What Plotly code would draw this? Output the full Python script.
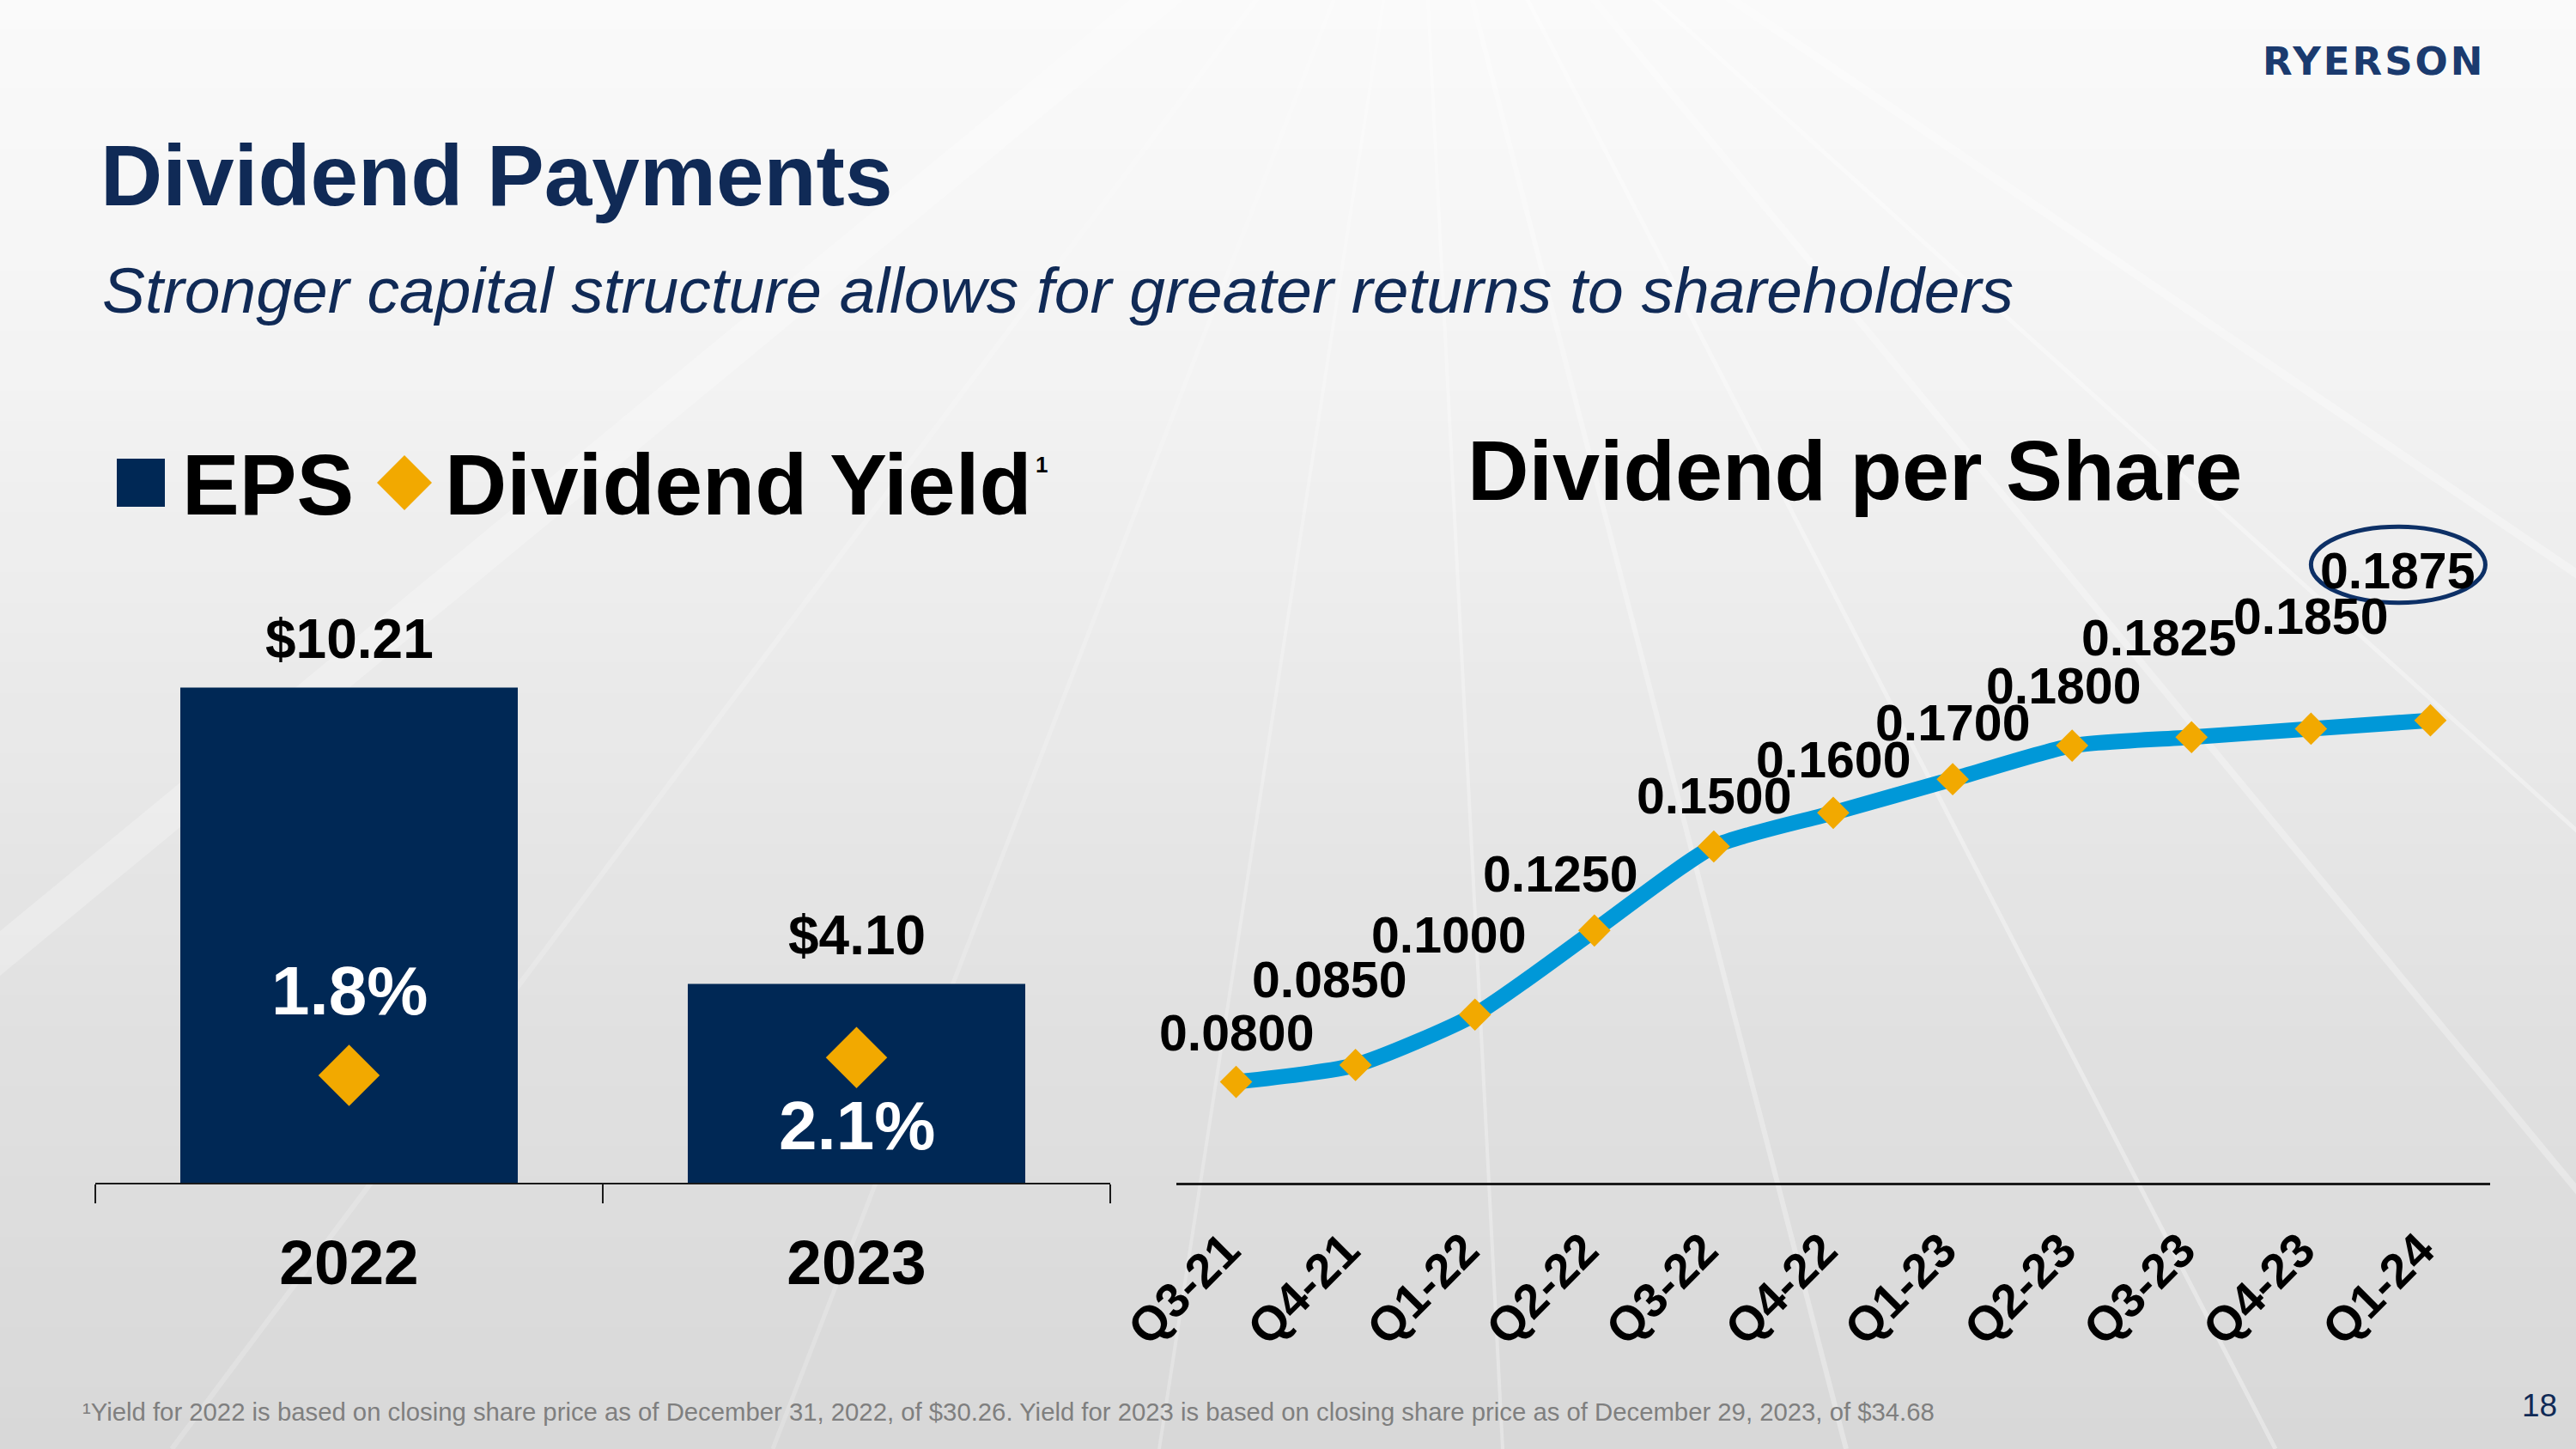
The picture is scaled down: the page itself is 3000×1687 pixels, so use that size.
import plotly.graph_objects as go

W, H = 3000, 1687

# ---------------- data ----------------
eps_years = ["2022", "2023"]
eps_values = [10.21, 4.10]
eps_labels = ["$10.21", "$4.10"]
yield_values = [1.8, 2.1]
yield_labels = ["1.8%", "2.1%"]

quarters = ["Q3-21", "Q4-21", "Q1-22", "Q2-22", "Q3-22", "Q4-22",
            "Q1-23", "Q2-23", "Q3-23", "Q4-23", "Q1-24"]
dps_values = [0.0800, 0.0850, 0.1000, 0.1250, 0.1500, 0.1600,
              0.1700, 0.1800, 0.1825, 0.1850, 0.1875]
dps_labels = ["0.0800", "0.0850", "0.1000", "0.1250", "0.1500", "0.1600",
              "0.1700", "0.1800", "0.1825", "0.1850", "0.1875"]

title_text = "Dividend Payments"
subtitle_text = "Stronger capital structure allows for greater returns to shareholders"
line_title = "Dividend per Share"
footnote_text = ("¹Yield for 2022 is based on closing share price as of December 31, 2022, of $30.26. "
                 "Yield for 2023 is based on closing share price as of December 29, 2023, of $34.68")
page_number = "18"
logo_text = "RYERSON"

# ---------------- styles ----------------
FONT = "Liberation Sans, Arial, sans-serif"
NAVY_TXT = "#102A56"
BAR_NAVY = "#002855"
GOLD = "#F2A900"
BLUE = "#0098D8"
AXIS = "#1a1a1a"

# label offsets (pixels) for the dividend data labels
dps_label_shift = [(0, 57), (-31, 99), (-31, 92), (-40, 65), (0, 59), (0, 61),
                   (0, 65), (-10, 69), (-38, 115), (0, 130), (-38, 174)]
yield_label_shift = [99, -79]


def px(x):
    return x / W


def py(y):
    return 1 - y / H


def bold(size, color="black"):
    return dict(family=FONT, size=size, color=color, weight="bold")


fig = go.Figure()

# EPS bars
fig.add_trace(go.Bar(
    x=eps_years, y=eps_values, width=0.665,
    marker=dict(color=BAR_NAVY, line=dict(width=0)),
    xaxis="x", yaxis="y", hoverinfo="skip", showlegend=False))

# Dividend yield diamonds (secondary axis)
fig.add_trace(go.Scatter(
    x=eps_years, y=yield_values, mode="markers",
    marker=dict(symbol="diamond", size=55, color=GOLD, line=dict(width=0)),
    xaxis="x", yaxis="y3", hoverinfo="skip", showlegend=False))

# Dividend per share line
fig.add_trace(go.Scatter(
    x=quarters, y=dps_values, mode="lines+markers",
    line=dict(color=BLUE, width=18, shape="spline", smoothing=0.6),
    marker=dict(symbol="diamond", size=29, color=GOLD, line=dict(width=0)),
    xaxis="x2", yaxis="y2", hoverinfo="skip", showlegend=False))

annotations = []

# category axes: annotations are anchored by category index
for i, (v, lab) in enumerate(zip(eps_values, eps_labels)):
    annotations.append(dict(x=i, y=v, xref="x", yref="y", text=lab, showarrow=False,
                            yshift=56, yanchor="middle", font=bold(64)))

for i, (v, lab, sh) in enumerate(zip(yield_values, yield_labels, yield_label_shift)):
    annotations.append(dict(x=i, y=v, xref="x", yref="y3", text=lab, showarrow=False,
                            yshift=sh, yanchor="middle", font=bold(80, "white")))

for i, (v, lab, (dx, dy)) in enumerate(zip(dps_values, dps_labels, dps_label_shift)):
    annotations.append(dict(x=i, y=v, xref="x2", yref="y2", text=lab, showarrow=False,
                            xshift=dx, yshift=dy, yanchor="middle", font=bold(59)))

# Titles and texts
annotations += [
    dict(x=px(115), y=py(204), xref="paper", yref="paper", text=title_text, showarrow=False,
         xanchor="left", yanchor="middle", font=bold(100, NAVY_TXT)),
    dict(x=px(117), y=py(338), xref="paper", yref="paper", text=subtitle_text, showarrow=False,
         xanchor="left", yanchor="middle",
         font=dict(family=FONT, size=75, color=NAVY_TXT, style="italic")),
    dict(x=px(210), y=py(564), xref="paper", yref="paper", text="EPS", showarrow=False,
         xanchor="left", yanchor="middle", font=bold(100)),
    dict(x=px(516), y=py(564), xref="paper", yref="paper", text="Dividend Yield", showarrow=False,
         xanchor="left", yanchor="middle", font=bold(100)),
    dict(x=px(1204), y=py(541), xref="paper", yref="paper", text="1", showarrow=False,
         xanchor="left", yanchor="middle", font=bold(26)),
    dict(x=px(2160), y=py(548), xref="paper", yref="paper", text=line_title, showarrow=False,
         xanchor="center", yanchor="middle", font=bold(99)),
    dict(x=px(94), y=py(1643), xref="paper", yref="paper", text=footnote_text, showarrow=False,
         xanchor="left", yanchor="middle", font=dict(family=FONT, size=29.3, color="#7f7f7f")),
    dict(x=px(2980), y=py(1636), xref="paper", yref="paper", text=page_number, showarrow=False,
         xanchor="right", yanchor="middle", font=dict(family=FONT, size=37, color=NAVY_TXT)),
    dict(x=px(2633), y=py(72), xref="paper", yref="paper",
         text='<span style="letter-spacing:3px">' + logo_text + '</span>', showarrow=False,
         xanchor="left", yanchor="middle",
         font=dict(family="DejaVu Sans, sans-serif", size=45, color="#1B3B6F", weight="bold")),
]

shapes = []

# background vertical gradient
stops = [(0.0, 250), (0.2, 245), (0.45, 235), (0.7, 225), (1.0, 216)]


def grey_at(t):
    for (t0, g0), (t1, g1) in zip(stops[:-1], stops[1:]):
        if t0 <= t <= t1:
            return g0 + (g1 - g0) * (t - t0) / (t1 - t0)
    return stops[-1][1]


nb = 48
for i in range(nb):
    t = (i + 0.5) / nb
    g = int(round(grey_at(t)))
    shapes.append(dict(type="rect", xref="paper", yref="paper", layer="below",
                       x0=-0.01, x1=1.01, y0=1 - (i + 1) / nb - 0.001, y1=1 - i / nb + 0.001,
                       fillcolor=f"rgb({g},{g},{g})", line=dict(width=0)))

# soft light rays
vp = (1650, -250)
ray_ends = [(-700, 40, 0.25), (200, 6, 0.2), (900, 5, 0.2), (1350, 4, 0.25),
            (1750, 4, 0.3), (2150, 6, 0.3), (2650, 5, 0.35), (3250, 8, 0.3),
            (3800, 5, 0.35), (4500, 10, 0.3)]
for xe, wdt, op in ray_ends:
    shapes.append(dict(type="line", xref="paper", yref="paper", layer="below",
                       x0=px(vp[0]), y0=py(vp[1]), x1=px(xe), y1=py(H),
                       line=dict(color=f"rgba(255,255,255,{op})", width=wdt)))

# legend keys
shapes.append(dict(type="rect", xref="paper", yref="paper",
                   x0=px(136), x1=px(192), y0=py(590), y1=py(534),
                   fillcolor=BAR_NAVY, line=dict(width=0)))
cx, cy, r = 471, 562, 32
shapes.append(dict(type="path", xref="paper", yref="paper",
                   path=(f"M {px(cx)} {py(cy - r)} L {px(cx + r)} {py(cy)} "
                         f"L {px(cx)} {py(cy + r)} L {px(cx - r)} {py(cy)} Z"),
                   fillcolor=GOLD, line=dict(width=0)))

# ellipse highlighting the latest dividend
last = len(quarters) - 1
shapes.append(dict(type="circle", xref="x2", yref="y2",
                   x0=last - 1.0, x1=last + 0.46,
                   y0=dps_values[-1] + 0.035, y1=dps_values[-1] + 0.0576,
                   line=dict(color="#0D3066", width=5), fillcolor="rgba(0,0,0,0)"))

fig.update_layout(
    width=W, height=H,
    margin=dict(l=0, r=0, t=0, b=0, pad=0),
    paper_bgcolor="#e4e4e4",
    plot_bgcolor="rgba(0,0,0,0)",
    showlegend=False,
    annotations=annotations,
    shapes=shapes,
    xaxis=dict(domain=[px(111), px(1293)], anchor="y", type="category",
               range=[-0.5, len(eps_years) - 0.5], automargin=False,
               showline=True, linecolor=AXIS, linewidth=2,
               ticks="outside", tickson="boundaries", ticklen=22, tickwidth=2, tickcolor=AXIS,
               tickfont=bold(73), ticklabelstandoff=28, tickangle=0,
               showgrid=False, zeroline=False, fixedrange=True),
    yaxis=dict(domain=[py(1377), py(530)], range=[0, 15], visible=False,
               automargin=False, fixedrange=True),
    yaxis3=dict(overlaying="y", anchor="x", range=[0, 12.2], visible=False,
                automargin=False, fixedrange=True),
    xaxis2=dict(domain=[px(1370), px(2900)], anchor="y2", type="category",
                range=[-0.5, len(quarters) - 0.5], automargin=False,
                showline=True, linecolor=AXIS, linewidth=3, ticks="",
                tickangle=-45, tickfont=bold(56), ticklabelstandoff=20, ticklabelshift=-12,
                showgrid=False, zeroline=False, fixedrange=True),
    yaxis2=dict(domain=[py(1377), py(594)], anchor="x2", range=[0.05, 0.25],
                visible=False, automargin=False, fixedrange=True),
)

fig.write_html("out.html", config={"displayModeBar": False},
               post_script="document.body.style.margin='0';")
